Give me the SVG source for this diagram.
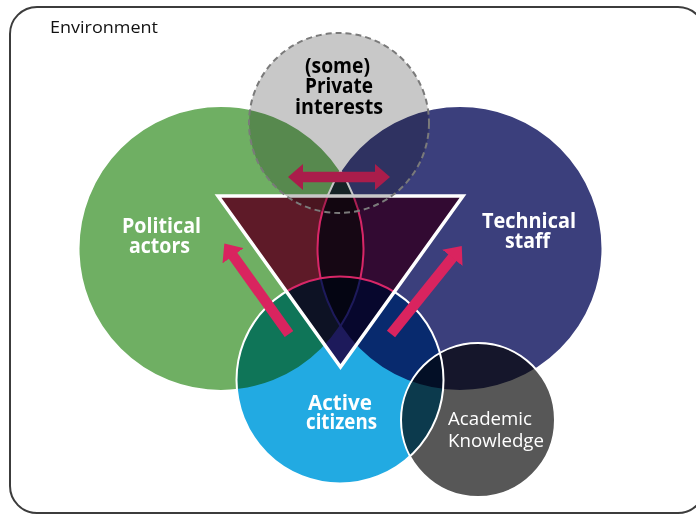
<svg xmlns="http://www.w3.org/2000/svg" width="696" height="515" viewBox="0 0 696 515">
<style>
.mul{mix-blend-mode:multiply}
.wline{fill:none;stroke:#ffffff;stroke-width:2}
.lbl{font-family:"Open Sans","Noto Sans",sans-serif;font-weight:700;font-size:21px;text-anchor:middle}
.reg{font-family:"Open Sans","Noto Sans",sans-serif;font-weight:400}
.arrow{stroke:#d9245f;stroke-width:10.5;fill:none}
</style>
<defs>
<marker id="head" markerUnits="userSpaceOnUse" markerWidth="16" markerHeight="26" viewBox="0 0 16 26" refX="1" refY="13" orient="auto-start-reverse">
<path d="M0,0 L15,13 L0,26 Z" fill="#d9245f"/>
</marker>
</defs>
<rect x="0" y="0" width="696" height="515" fill="#ffffff"/>
<g id="environment">
<rect x="10" y="7" width="695" height="506" rx="27" ry="27" fill="none" stroke="#3c3c3c" stroke-width="2"/>
<text class="reg" x="50" y="33" font-size="17" textLength="108" lengthAdjust="spacingAndGlyphs" fill="#111">Environment</text>
</g>
<g id="political-actors">
<circle cx="221" cy="248.5" r="142.5" fill="#6faf63"/>
<text class="lbl" fill="#fff"><tspan x="161.5" y="233" textLength="79" lengthAdjust="spacingAndGlyphs">Political</tspan><tspan x="159.5" y="253" textLength="61" lengthAdjust="spacingAndGlyphs">actors</tspan></text>
</g>
<g id="technical-staff">
<circle class="mul" cx="460" cy="248.5" r="142.5" fill="#3b3f7c"/>
<text class="lbl" fill="#fff"><tspan x="529" y="228" textLength="94" lengthAdjust="spacingAndGlyphs">Technical</tspan><tspan x="527.5" y="248" textLength="45" lengthAdjust="spacingAndGlyphs">staff</tspan></text>
</g>
<g id="outlines-upper">
<circle class="wline" cx="221" cy="248.5" r="142.5"/>
<circle class="wline" cx="460" cy="248.5" r="142.5"/>
</g>
<g id="active-citizens">
<circle class="mul" cx="340" cy="380" r="103.5" fill="#22aae2"/>
<text class="lbl" fill="#fff"><tspan x="340" y="410" textLength="64" lengthAdjust="spacingAndGlyphs">Active</tspan><tspan x="341.5" y="429" textLength="71" lengthAdjust="spacingAndGlyphs">citizens</tspan></text>
</g>
<g id="academic-knowledge">
<circle class="mul" cx="478" cy="420" r="77" fill="#575757"/>
<text class="reg" font-size="19" fill="#fff"><tspan x="448" y="425" textLength="84" lengthAdjust="spacingAndGlyphs">Academic</tspan><tspan x="448" y="447" textLength="96" lengthAdjust="spacingAndGlyphs">Knowledge</tspan></text>
</g>
<g id="outlines-lower">
<circle class="wline" cx="340" cy="380" r="103.5" stroke-width="2.5"/>
<circle class="wline" cx="478" cy="420" r="77" stroke-width="2.5"/>
</g>
<g id="triangle">
<polygon class="mul" points="218,196 463,196 340.5,367" fill="#d82667"/>
<polygon points="218,196 463,196 340.5,367" fill="none" stroke="#fff" stroke-width="3.5" stroke-linejoin="miter"/>
</g>
<g id="connectors">
<line class="arrow" x1="302" y1="177" x2="376" y2="177" marker-start="url(#head)" marker-end="url(#head)"/>
<line class="arrow" x1="289" y1="334" x2="232.5" y2="255" marker-end="url(#head)"/>
<line class="arrow" x1="391" y1="334" x2="453" y2="257" marker-end="url(#head)"/>
</g>
<g id="private-interests">
<circle class="mul" cx="339" cy="123" r="90" fill="#c8c8c8"/>
<circle cx="339" cy="123" r="90" fill="none" stroke="#7a7a7a" stroke-width="2" stroke-dasharray="6 4"/>
<text class="lbl" fill="#000"><tspan x="337.5" y="73" textLength="65" lengthAdjust="spacingAndGlyphs">(some)</tspan><tspan x="339" y="93" textLength="68" lengthAdjust="spacingAndGlyphs">Private</tspan><tspan x="339" y="114" textLength="88" lengthAdjust="spacingAndGlyphs">interests</tspan></text>
</g>
</svg>
